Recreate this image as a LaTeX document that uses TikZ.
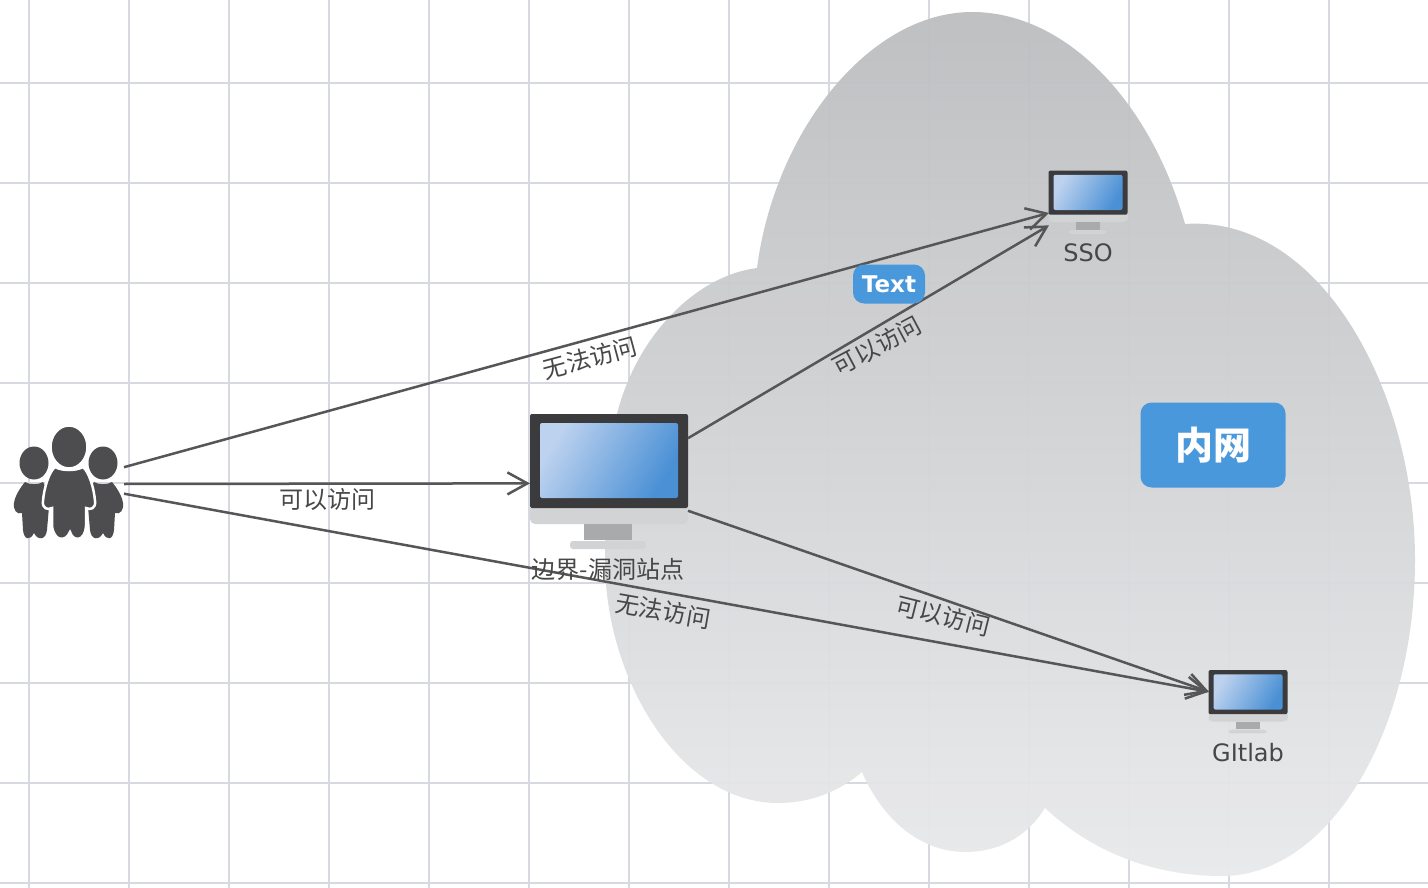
\documentclass[tikz,border=0pt]{standalone}
\usepackage{fontspec}
\setmainfont{DejaVu Sans}
\newfontfamily\cjk{Noto Sans CJK SC}
\usetikzlibrary{arrows.meta}
\definecolor{gridc}{HTML}{D6D9DF}
\definecolor{cloudtop}{HTML}{BDBEC0}
\definecolor{cloudmid}{HTML}{CBCCCE}
\definecolor{cloudbot}{HTML}{E9EAEC}
\definecolor{linec}{HTML}{565656}
\definecolor{bezel}{HTML}{3B3A3C}
\definecolor{scrA}{HTML}{BDD2EF}
\definecolor{scrB}{HTML}{4A90D5}
\definecolor{panelc}{HTML}{D2D3D5}
\definecolor{standc}{HTML}{A9AAAC}
\definecolor{blueb}{HTML}{4A98DC}
\definecolor{person}{HTML}{4D4D4F}
\tikzset{
  gridline/.style={draw=gridc,line width=2pt},
  conn/.style={draw=linec,line width=2.5pt,-{Straight Barb[length=20pt,width=22pt,line width=2.5pt]}},
  edgelabel/.style={font=\fontsize{24}{26}\selectfont\cjk,text=black!72,inner sep=0pt},
  nodelabel/.style={font=\fontsize{24}{26}\selectfont,text=black!72,inner sep=0pt},
  anchorbox/.style={draw=none,fill=none,inner sep=0pt,outer sep=0pt},
  bluebox/.style={fill=blueb,rounded corners=11pt,text=white,inner sep=0pt},
  figure part/.style={fill=person,draw=white,line width=2.5pt}
}
% monitor art, drawn in a 158x136 box centred on #1, x scale #2, y scale #3
\newcommand{\monitorart}[3]{%
  \begin{scope}[shift={(#1)},xscale=#2,yscale=#3]
    \fill[panelc,rounded corners=5pt] (-79,30) rectangle (79,42);
    \fill[panelc] (-79,26) rectangle (79,34);
    \fill[standc] (-25,42) rectangle (23,58);
    \fill[panelc,rounded corners=3pt] (-39,59) rectangle (37,67);
    \fill[bezel,rounded corners=2pt] (-79,-68) rectangle (79,26);
    \shade[left color=scrA,right color=scrB,shading angle=60,rounded corners=2pt] (-69,-59) rectangle (69,16);
  \end{scope}}
\begin{document}
\begin{tikzpicture}[x=1pt,y=-1pt]
\useasboundingbox (0,0) rectangle (1428,888);
\fill[white] (0,0) rectangle (1428,888);
% grid
\foreach \gx in {29,129,...,1329} \draw[gridline] (\gx,0) -- (\gx,888);
\foreach \gy in {83,183,...,883} \draw[gridline] (0,\gy) -- (1428,\gy);
% cloud
\path[top color=cloudtop,middle color=cloudmid,bottom color=cloudbot,opacity=.96]
  (757,268) .. controls (775,130) and (870,12) .. (972,12)
  .. controls (1065,12) and (1150,100) .. (1185,224)
  .. controls (1320,215) and (1415,390) .. (1415,560)
  .. controls (1415,730) and (1330,876) .. (1222,876)
  .. controls (1150,876) and (1090,850) .. (1045,808)
  .. controls (1025,840) and (995,852) .. (965,852)
  .. controls (925,852) and (885,825) .. (862,772)
  .. controls (835,795) and (805,803) .. (778,803)
  .. controls (680,803) and (605,680) .. (605,560)
  .. controls (605,500) and (610,440) .. (618,410)
  .. controls (640,330) and (700,275) .. (757,268) -- cycle;
% people
\begin{scope}
  \fill[person] (34,463) ellipse [x radius=14.5,y radius=16.5];
  \fill[person] (103,463) ellipse [x radius=14.5,y radius=16.5];
  \fill[person] (25,482) .. controls (30,485) and (38,485) .. (43,482)
    -- (50,495) -- (47,530)
    .. controls (46,540) and (38,541) .. (34,533)
    .. controls (30,541) and (24,540) .. (23,530) -- (22,513)
    .. controls (17,515) and (13,510) .. (14,503)
    .. controls (15,496) and (20,488) .. (25,482) -- cycle;
  \fill[person] (112,482) .. controls (107,485) and (99,485) .. (94,482)
    -- (87,495) -- (90,530)
    .. controls (91,540) and (99,541) .. (103,533)
    .. controls (107,541) and (113,540) .. (114,530) -- (115,513)
    .. controls (120,515) and (124,510) .. (123,503)
    .. controls (122,496) and (117,488) .. (112,482) -- cycle;
  \path[figure part] (69,447) ellipse [x radius=18.5,y radius=21.5];
  \path[figure part] (55,467) .. controls (62,471) and (76,471) .. (83,467)
    .. controls (89,472) and (94,488) .. (95,501)
    .. controls (96,509) and (90,510) .. (86,508) -- (86,526)
    .. controls (85,542) and (73,542) .. (70,532)
    .. controls (66,542) and (54,542) .. (52,526) -- (52,508)
    .. controls (48,510) and (42,509) .. (43,501)
    .. controls (44,488) and (49,472) .. (55,467) -- cycle;
\end{scope}
% monitors
\monitorart{609,482}{1}{1}
\monitorart{1088,202.5}{0.5}{0.47}
\monitorart{1248,702}{0.5}{0.47}
% named anchors of the drawn icons
\node[anchorbox,minimum width=110pt,minimum height=112pt] (people) at (69,484) {};
\node[anchorbox,minimum width=158pt,minimum height=136pt] (edge) at (609,482) {};
\node[anchorbox,minimum width=78pt,minimum height=66pt] (sso) at (1088,201) {};
\node[anchorbox,minimum width=78pt,minimum height=66pt] (gitlab) at (1248,703) {};
% connectors
\draw[conn] (people.17) -- (sso.197);
\draw[conn] (people.0) -- (edge.181);
\draw[conn] (people.-10) -- (gitlab.164);
\draw[conn] (edge.29) -- (sso.212);
\draw[conn] (edge.-20) -- (gitlab.164);
% labels
\node[edgelabel,rotate=15] (l1) at (590,358) {无法访问};
\node[edgelabel] (l2) at (327,499) {可以访问};
\node[edgelabel,rotate=28] (l3) at (877,346) {可以访问};
\node[edgelabel,rotate=-10] (l4) at (663,611) {无法访问};
\node[edgelabel,rotate=-14] (l5) at (943,616) {可以访问};
\node[edgelabel] (edgename) at (608,569) {边界-漏洞站点};
\node[nodelabel] (ssoname) at (1088,253) {SSO};
\node[nodelabel] (gitlabname) at (1248,753) {GItlab};
\node[bluebox,minimum width=72pt,minimum height=39pt,font=\fontsize{23}{25}\selectfont\bfseries] (textbox) at (889,284) {Text};
\node[bluebox,minimum width=145pt,minimum height=85pt,font=\fontsize{38}{40}\selectfont\cjk\bfseries] (neiwang) at (1213,445) {内网};
\end{tikzpicture}
\end{document}
